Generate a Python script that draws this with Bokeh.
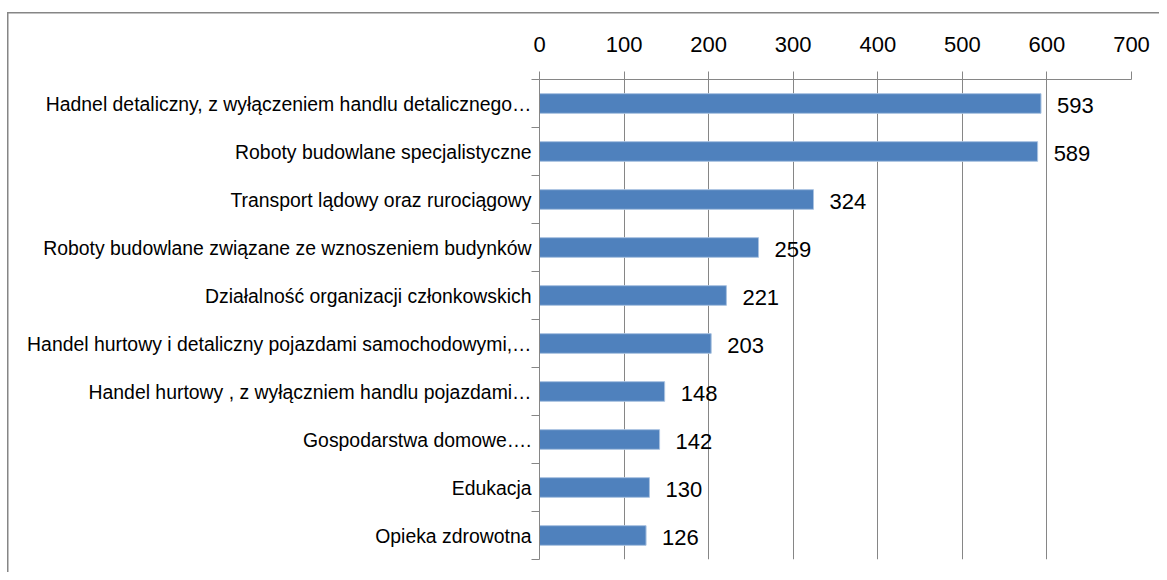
from bokeh.plotting import figure
from bokeh.models import Range1d, FixedTicker, LinearAxis, ColumnDataSource, Grid
from bokeh.core.properties import value
from bokeh.embed import file_html
from bokeh.resources import INLINE

categories = [
    "Hadnel detaliczny, z wyłączeniem handlu detalicznego…",
    "Roboty budowlane specjalistyczne",
    "Transport lądowy oraz rurociągowy",
    "Roboty budowlane związane ze wznoszeniem budynków",
    "Działalność organizacji członkowskich",
    "Handel hurtowy i detaliczny pojazdami samochodowymi,…",
    "Handel hurtowy , z wyłączniem handlu pojazdami…",
    "Gospodarstwa domowe….",
    "Edukacja",
    "Opieka zdrowotna",
]
values = [593, 589, 324, 259, 221, 203, 148, 142, 130, 126]
x_ticks = [0, 100, 200, 300, 400, 500, 600, 700]

n = len(categories)
centers = [i + 0.5 for i in range(n)]
bounds = [float(i) for i in range(n + 1)]

FONT = "Liberation Sans"
GRID = "#868686"

p = figure(width=1159, height=572, output_backend="svg", toolbar_location=None,
           x_range=Range1d(0, 700), y_range=Range1d(n, 0),
           x_axis_location=None, y_axis_location=None,
           min_border_left=539, min_border_right=28, min_border_top=79, min_border_bottom=13)
p.outline_line_color = None
p.background_fill_color = None
p.border_fill_color = None
p.styles = {
    "background": ("linear-gradient(#868686, #868686) 7px 12px / 1.5px 100% no-repeat, "
                   "linear-gradient(#868686, #868686) 7px 12px / 100% 1.5px no-repeat, "
                   "#ffffff"),
}

src = ColumnDataSource(dict(y=centers, v=values, t=[str(v) for v in values]))
p.hbar(y="y", right="v", left=0, height=0.41, source=src,
       fill_color="#4F81BD", line_color="#A9C2E0", line_width=1)
p.text(x="v", y="y", text="t", source=src, x_offset=16, y_offset=2,
       text_baseline="middle", text_align="left",
       text_font=value(FONT), text_font_size="22px", text_color="#000000")

# top axis
xa = LinearAxis(ticker=FixedTicker(ticks=x_ticks))
xa.axis_line_color = GRID
xa.major_tick_line_color = GRID
xa.major_tick_out = 8
xa.major_tick_in = 0
xa.minor_tick_line_color = None
xa.major_label_text_font = FONT
xa.major_label_text_font_size = "22px"
xa.major_label_text_color = "#000000"
xa.major_label_standoff = 20
p.add_layout(xa, "above")

# left axis
ya = LinearAxis(ticker=FixedTicker(ticks=centers, minor_ticks=bounds))
ya.major_label_overrides = {c: lab for c, lab in zip(centers, categories)}
ya.axis_line_color = GRID
ya.major_tick_line_color = None
ya.major_tick_out = 0
ya.major_tick_in = 0
ya.minor_tick_line_color = GRID
ya.minor_tick_out = 8
ya.minor_tick_in = 0
ya.major_label_text_font = FONT
ya.major_label_text_font_size = "19.4px"
ya.major_label_text_color = "#000000"
ya.major_label_standoff = 0
p.add_layout(ya, "left")

p.xgrid.grid_line_color = None
p.ygrid.grid_line_color = None
g = Grid(dimension=0, ticker=FixedTicker(ticks=x_ticks), grid_line_color=GRID, grid_line_width=1)
p.add_layout(g)

open("out.html", "w").write(file_html(p, INLINE))
